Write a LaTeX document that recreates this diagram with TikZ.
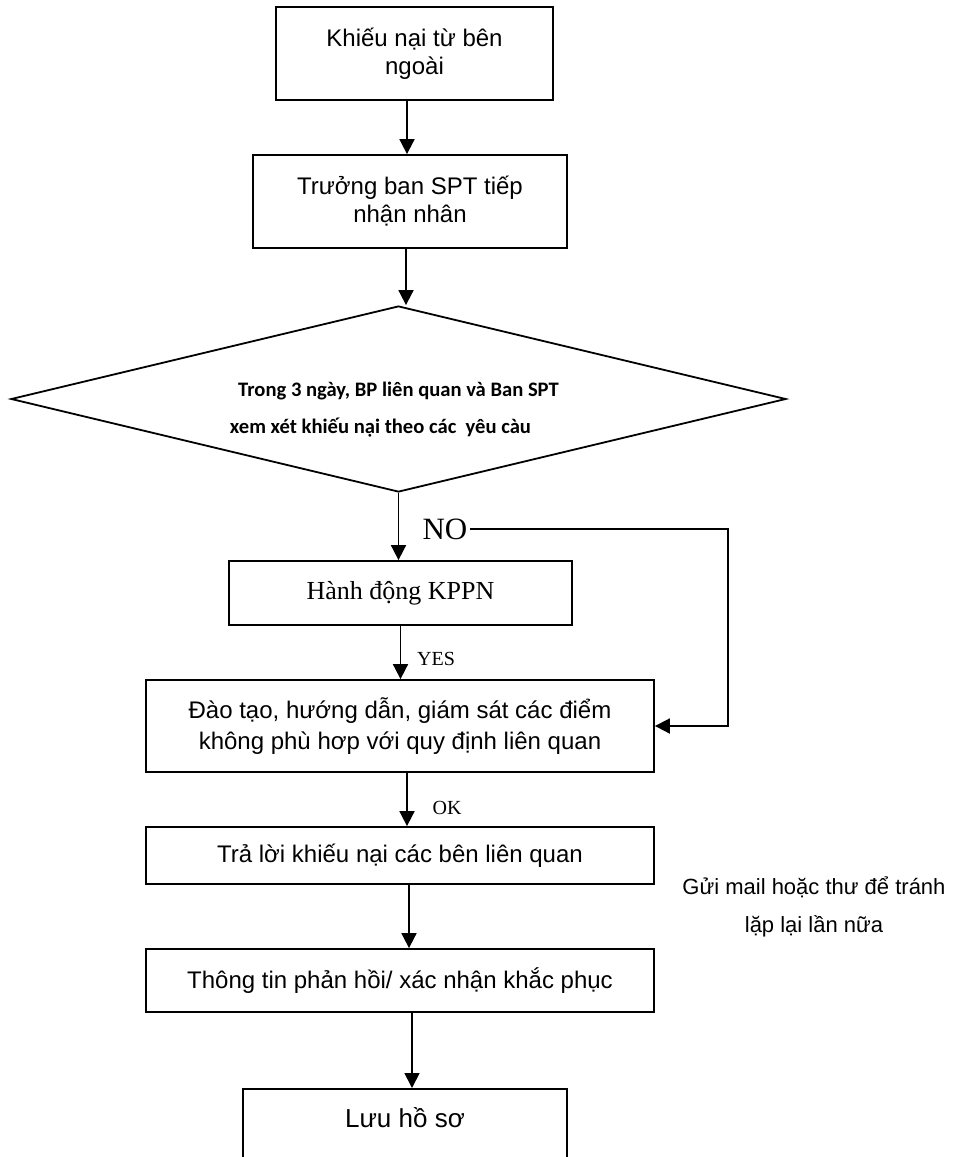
\documentclass[tikz,border=0pt]{standalone}
\usepackage{fontspec}
\setmainfont{Liberation Sans}
\newfontfamily\tnr{Liberation Serif}
\newfontfamily\calibfont{Carlito}
\usepackage{tikz}
\usetikzlibrary{shapes.geometric,arrows.meta}

\tikzset{
  box/.style={draw, line width=0.9pt, align=center, inner sep=0pt},
  decision/.style={draw, diamond, line width=0.9pt, align=center, inner sep=0pt, aspect=4.17},
  lbl/.style={inner sep=1pt, font=\tnr\fontsize{10}{12}\selectfont},
  arr/.style={->, line width=0.9pt}
}

\begin{document}
\begin{tikzpicture}[x=0.5pt,y=-0.5pt,>={Triangle[length=7.5pt,width=7.5pt]}]
\useasboundingbox (0,0) rectangle (955,1157);
% main chain
\node[box, minimum width=138.5pt, minimum height=46.5pt, font=\fontsize{12}{14}\selectfont] (ext) at (414.5,53.5) {Khiếu nại từ bên\\ngoài};
\node[box, minimum width=157pt, minimum height=46.5pt, font=\fontsize{12}{14}\selectfont] (recv) at (410,201.5) {Trưởng ban SPT tiếp\\nhận nhân};
\node[decision, minimum width=387.5pt, minimum height=93pt, font=\calibfont\bfseries\fontsize{10.3}{18.5}\selectfont] (review) at (398.5,399)
  {\rule{0pt}{17.5pt}Trong 3 ngày, BP liên quan và Ban SPT\\xem xét khiếu nại theo các~ yêu càu\hspace*{18pt}};
\node[box, minimum width=171.5pt, minimum height=32pt, font=\tnr\fontsize{13}{15}\selectfont] (act) at (400.5,593) {Hành động KPPN};
\node[box, minimum width=254pt, minimum height=46pt, font=\fontsize{12}{15.5}\selectfont] (train) at (400,726)
  {Đào tạo, hướng dẫn, giám sát các điểm\\không phù hơp với quy định liên quan};
\node[box, minimum width=254pt, minimum height=28.5pt, font=\fontsize{12}{14}\selectfont] (reply) at (400,855.5) {Trả lời khiếu nại các bên liên quan};
\node[box, minimum width=254pt, minimum height=31.5pt, font=\fontsize{12}{14}\selectfont] (confirm) at (400,980.5) {Thông tin phản hồi/ xác nhận khắc phục};
\node[box, anchor=north, minimum width=162pt, text height=19.5pt, text depth=26pt, font=\fontsize{13}{15}\selectfont] (archive) at (405,1088) {Lưu hồ sơ};

% labels
\node[lbl, font=\tnr\fontsize{15.5}{18}\selectfont] (no) at (445,529) {NO};
\node[lbl] (yes) at (436,659) {YES};
\node[lbl] (ok) at (447,808) {OK};
\node[align=center, inner sep=0pt, font=\fontsize{11}{19}\selectfont] (note) at (814,907) {Gửi mail hoặc thư để tránh\\lặp lại lần nữa};
\coordinate (noturn) at (728,528);

% arrows
\draw[arr] ([xshift=-3.75pt]ext.south) -- ([xshift=-3.75pt]ext.south |- recv.north);
\draw[arr] ([xshift=-2pt]recv.south) -- ([xshift=-2pt]recv.south |- review.north);
\draw[arr] (review.south) -- (review.south |- act.north);
\draw[arr] (act.south) -- (act.south |- train.north);
\draw[arr] ([xshift=3.5pt]train.south) -- ([xshift=3.5pt]train.south |- reply.north);
\draw[arr] ([xshift=4.5pt]reply.south) -- ([xshift=4.5pt]reply.south |- confirm.north);
\draw[arr] ([xshift=6pt]confirm.south) -- ([xshift=6pt]confirm.south |- archive.north);
\draw[arr] (no.east) -- (no.east -| noturn) |- (train.east);
\end{tikzpicture}
\end{document}
